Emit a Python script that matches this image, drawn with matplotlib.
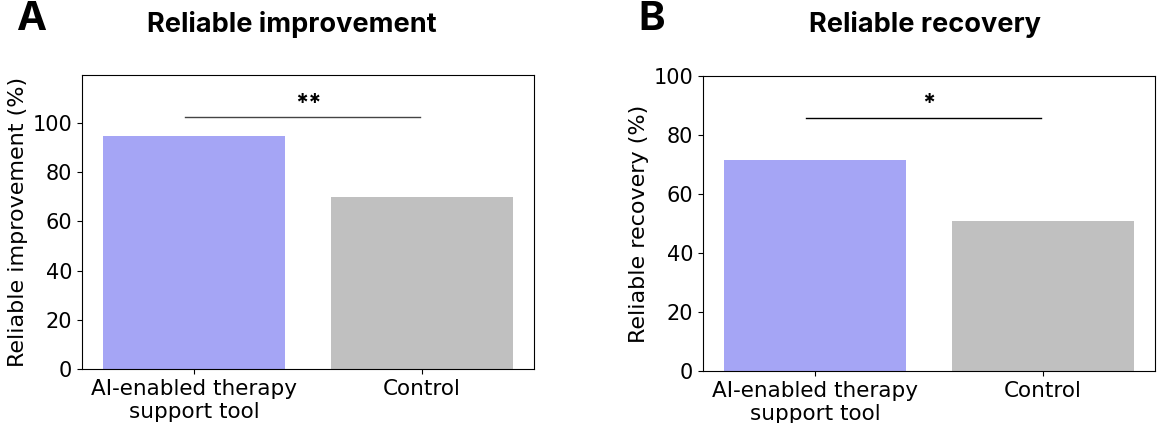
import matplotlib
matplotlib.use("Agg")
import matplotlib.pyplot as plt

# data
groups = ["AI-enabled therapy\nsupport tool", "Control"]
improvement = [94.6, 69.9]
recovery = [71.5, 50.7]
bar_colors = ["#a5a5f5", "#c0c0c0"]

plt.rcParams["font.size"] = 14
plt.rcParams["xtick.labelsize"] = 15.5
plt.rcParams["ytick.labelsize"] = 15
plt.rcParams["axes.labelsize"] = 16

fig = plt.figure(figsize=(11.58, 4.23), dpi=100)
ax1 = fig.add_axes([82 / 1158, 54 / 423, 452 / 1158, 294 / 423])
ax2 = fig.add_axes([703 / 1158, 52 / 423, 452 / 1158, 295 / 423])


def panel(ax, values, ylabel, ytop, sig_y, stars, line_color):
    """one bar panel with a significance bracket"""
    x = range(len(groups))
    ax.bar(x, values, color=bar_colors, width=0.8)
    ax.set_xticks(list(x))
    ax.set_xticklabels(groups)
    ax.set_ylim(0, ytop)
    ax.set_ylabel(ylabel, labelpad=3)
    ax.plot([-0.04, 0.99], [sig_y, sig_y], color=line_color, lw=1)
    ax.text(0.5, sig_y + 1, stars, ha="center", va="bottom",
            fontsize=17, fontweight="bold", family="Inter")


panel(ax1, improvement, "Reliable improvement (%)", 119.5, 102.4, "**", "#444444")
ax1.set_yticks([0, 20, 40, 60, 80, 100])
panel(ax2, recovery, "Reliable recovery (%)", 100, 85.8, "*", "black")

fig.text(292 / 1158, 1 - 24 / 423, "Reliable improvement", ha="center", va="center",
         fontsize=19.5, fontweight="bold", family="Inter")
fig.text(925 / 1158, 1 - 24 / 423, "Reliable recovery", ha="center", va="center",
         fontsize=19.5, fontweight="bold", family="Inter")
fig.text(31 / 1158, 1 - 20 / 423, "A", ha="center", va="center",
         fontsize=29, fontweight="bold", family="Inter")
fig.text(652 / 1158, 1 - 20 / 423, "B", ha="center", va="center",
         fontsize=29, fontweight="bold", family="Inter")

fig.savefig("out.png", dpi=100)
